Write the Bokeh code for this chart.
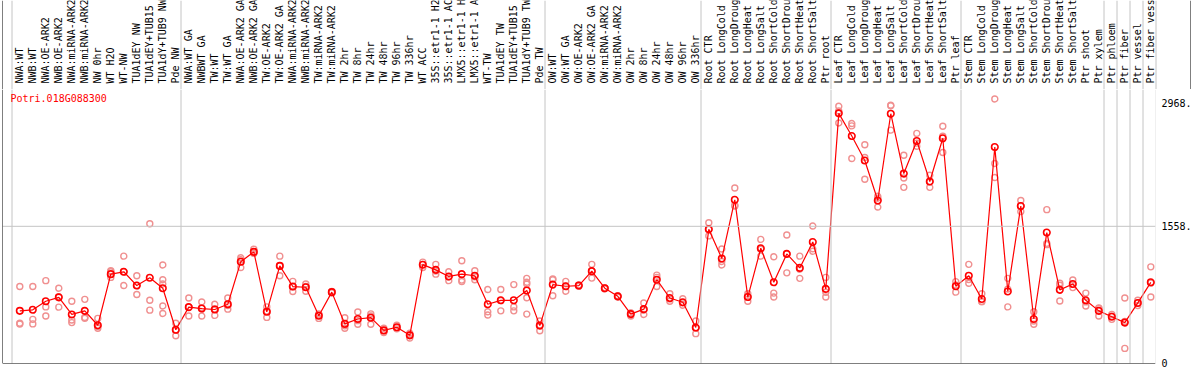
import math
from bokeh.plotting import figure
from bokeh.layouts import column
from bokeh.models import Range1d, Span, LinearAxis, FixedTicker, Label, LabelSet, ColumnDataSource
from bokeh.core.properties import value
from bokeh.embed import file_html
from bokeh.resources import INLINE

gene_id = "Potri.018G088300"

categories = [
    "NWA:WT", "NWB:WT", "NWA:OE-ARK2", "NWB:OE-ARK2", "NWA:miRNA-ARK2", "NWB:miRNA-ARK2",
    "NW 0hr", "WT H2O", "WT-NW", "TUA1dEY NW", "TUA1dEY+TUB15 NW", "TUA1dY+TUB9 NW", "Pde NW",
    "NWA:WT GA", "NWBWT GA", "TW:WT", "TW:WT GA", "NWA:OE-ARK2 GA", "NWB:OE-ARK2 GA",
    "TW:OE-ARK2", "TW:OE-ARK2 GA", "NWA:miRNA-ARK2", "NWB:miRNA-ARK2", "TW:miRNA-ARK2",
    "TW:miRNA-ARK2", "TW 2hr", "TW 8hr", "TW 24hr", "TW 48hr", "TW 96hr", "TW 336hr",
    "WT ACC", "35S::etr1-1 H2O", "35S::etr1-1 ACC", "LMX5::etr1-1 H2O", "LMX5::etr1-1 ACC",
    "WT-TW", "TUA1dEY TW", "TUA1dEY+TUB15 TW", "TUA1dY+TUB9 TW", "Pde TW",
    "OW:WT", "OW:WT GA", "OW:OE-ARK2", "OW:OE-ARK2 GA", "OW:miRNA-ARK2", "OW:miRNA-ARK2",
    "OW 2hr", "OW 8hr", "OW 24hr", "OW 48hr", "OW 96hr", "OW 336hr",
    "Root CTR", "Root LongCold", "Root LongDrought", "Root LongHeat", "Root LongSalt",
    "Root ShortCold", "Root ShortDrought", "Root ShortHeat", "Root ShortSalt", "Ptr root",
    "Leaf CTR", "Leaf LongCold", "Leaf LongDrought", "Leaf LongHeat", "Leaf LongSalt",
    "Leaf ShortCold", "Leaf ShortDrought", "Leaf ShortHeat", "Leaf ShortSalt", "Ptr leaf",
    "Stem CTR", "Stem LongCold", "Stem LongDrought", "Stem LongHeat", "Stem LongSalt",
    "Stem ShortCold", "Stem ShortDrought", "Stem ShortHeat", "Stem ShortSalt", "Ptr shoot",
    "Ptr xylem", "Ptr phloem", "Ptr fiber", "Ptr vessel", "Ptr fiber vessel",
]

means = [
    595, 607, 704, 749, 554, 595, 431, 1013, 1040, 883, 972, 853, 379,
    637, 621, 610, 670, 1155, 1267, 584, 1107, 872, 864, 539, 808, 446, 502, 517,
    372, 408, 316, 1121, 1062, 987, 1013, 995, 670, 715, 715, 827, 427,
    894, 875, 883, 1047, 853, 760, 558, 614, 950, 741, 693, 405,
    1524, 1192, 1860, 752, 1308, 920, 1244, 1084, 1379, 845,
    2845, 2587, 2308, 1852, 2841, 2159, 2531, 2069, 2561, 875,
    995, 730, 2461, 816, 1789, 502, 1487, 834, 901, 715,
    595, 528, 461, 685, 920,
]

replicates = [
    [872, 453, 445], [872, 498, 446], [939, 640, 536], [853, 637, 757], [704, 491, 461],
    [726, 520, 510], [509, 416, 397], [1051, 976, 1040], [1218, 883, 1040], [995, 782, 883],
    [1588, 715, 603], [1118, 950, 901, 651, 565], [453, 312, 372],
    [741, 536, 637], [696, 536, 630], [670, 543, 617], [741, 614, 655], [1200, 1088, 1177],
    [1297, 1250, 1254], [640, 520, 592], [1218, 995, 1108], [931, 816, 869], [901, 819, 872],
    [509, 548, 560], [808, 800, 816], [517, 397, 424], [581, 442, 483], [536, 442, 560],
    [397, 349, 370], [430, 390, 404], [340, 285, 323], [1088, 1150, 1125], [1125, 1013, 1048],
    [1040, 939, 982], [1166, 928, 945], [1051, 950, 984], [838, 584, 547], [838, 595, 712],
    [894, 640, 595], [965, 920, 900, 744, 558], [480, 368, 433],
    [957, 767, 950], [931, 819, 875], [883, 875, 890], [1125, 968, 1047], [853, 845, 860],
    [760, 752, 768], [536, 570, 568], [685, 554, 603], [1002, 872, 976], [789, 704, 730],
    [733, 659, 687], [480, 335, 400],
    [1599, 1449, 1524], [1300, 1118, 1158], [1994, 1796, 1790], [789, 704, 763],
    [1409, 1218, 1297], [1211, 797, 752], [1460, 1028, 1244], [1218, 965, 1069],
    [1561, 1274, 1302], [976, 752, 807],
    [2926, 2736, 2873], [2729, 2330, 2702], [2487, 2095, 2342], [1900, 1778, 1878],
    [2931, 2654, 2938], [2367, 2002, 2108], [2617, 2470, 2506], [2140, 2002, 2065],
    [2699, 2400, 2584], [928, 808, 889],
    [1125, 909, 951], [789, 700, 701], [3009, 2274, 2114], [965, 640, 843], [1852, 1726, 1789],
    [584, 442, 480], [1748, 1349, 1364], [909, 707, 886], [946, 860, 897], [797, 651, 697],
    [621, 536, 628], [554, 498, 532], [741, 167, 475], [715, 655, 685], [1096, 752, 912],
]

group_ends = [-1, 12, 40, 52, 62, 72, 83, 84, 85, 86, 87]
y_ticks = [0, 1558, 2968]
y_tick_labels = {0: "0", 1558: "1558.", 2968: "2968."}

FONT = "DejaVu Sans Mono"
PX_PER_CAT = 13.0
X_START = -17.3 / PX_PER_CAT
FW, FH = 1153, 274
RIGHT = 39
TOP_FW, TOP_FH = 1188, 89
X_END = X_START + FW / PX_PER_CAT
TOP_X_END = X_START + TOP_FW / PX_PER_CAT
Y_START, Y_END = -5, 3117
GRID = "#c4c4c4"

xs = list(range(len(categories)))
rep_x = [i for i, r in enumerate(replicates) for _ in r]
rep_y = [v for r in replicates for v in r]

# ---- label strip on top ----
top = figure(frame_width=TOP_FW, frame_height=TOP_FH,
             x_range=Range1d(X_START, TOP_X_END), y_range=Range1d(0, TOP_FH),
             output_backend="svg", toolbar_location=None,
             x_axis_location=None, y_axis_location=None,
             min_border_left=2, min_border_right=FW + RIGHT - TOP_FW,
             min_border_top=0, min_border_bottom=0)
top.outline_line_color = None
top.grid.visible = False
for e in group_ends:
    top.add_layout(Span(location=e + 0.4, dimension="height", line_color=GRID, line_width=1))
lab_src = ColumnDataSource(dict(x=xs, y=[6] * len(xs), text=categories))
top.add_layout(LabelSet(x="x", y="y", text="text", source=lab_src, angle=math.pi / 2,
                        text_align="left", text_baseline="middle",
                        text_font=value(FONT), text_font_size="10px", text_color="black"))
top.add_layout(Span(location=X_START, dimension="height", line_color="black", line_width=1))
top.add_layout(Span(location=TOP_X_END, dimension="height", line_color="black", line_width=1))
top.add_layout(Span(location=0, dimension="width", line_color="black", line_width=1))

# ---- main plot ----
p = figure(frame_width=FW, frame_height=FH,
           x_range=Range1d(X_START, X_END), y_range=Range1d(Y_START, Y_END),
           output_backend="svg", toolbar_location=None,
           x_axis_location=None, y_axis_location=None,
           min_border_left=2, min_border_right=RIGHT,
           min_border_top=0, min_border_bottom=370 - TOP_FH - FH)
p.outline_line_color = None
p.grid.visible = False
for e in group_ends:
    p.add_layout(Span(location=e + 0.4, dimension="height", line_color=GRID, line_width=1))
p.add_layout(Span(location=y_ticks[1], dimension="width", line_color=GRID, line_width=1))
p.add_layout(Span(location=X_START, dimension="height", line_color="black", line_width=1))
p.add_layout(Span(location=Y_START, dimension="width", line_color="black", line_width=1))

ax = LinearAxis(ticker=FixedTicker(ticks=y_ticks), major_label_overrides=y_tick_labels,
                axis_line_color=None, major_tick_line_color=None, minor_tick_line_color=None,
                major_tick_out=0, major_tick_in=0, major_label_standoff=6,
                major_label_text_font=FONT, major_label_text_font_size="10px",
                major_label_text_color="black")
p.add_layout(ax, "right")

p.scatter(rep_x, rep_y, marker="circle", size=6, fill_color=None,
          line_color="#f09090", line_width=1.4)
p.line(xs, means, line_color="red", line_width=1.2)
p.scatter(xs, means, marker="circle", size=6.5, fill_color=None,
          line_color="red", line_width=1.6)

p.add_layout(Label(x=8, y=FH - 3, x_units="screen", y_units="screen", text=gene_id,
                   text_baseline="top", text_color="red", text_font=FONT,
                   text_font_size="10px"))

layout = column(top, p, spacing=0)
open("out.html", "w").write(file_html(layout, INLINE))
